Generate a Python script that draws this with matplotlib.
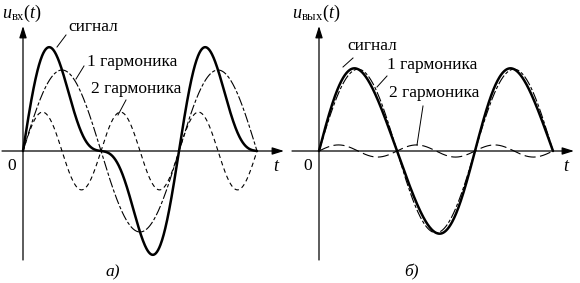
import numpy as np
import matplotlib.pyplot as plt

plt.rcParams['font.family'] = ['Liberation Serif', 'DejaVu Serif']
plt.rcParams['mathtext.fontset'] = 'custom'
plt.rcParams['mathtext.rm'] = 'Liberation Serif'
plt.rcParams['mathtext.it'] = 'Liberation Serif:italic'

# harmonic amplitudes (1 = height of the 1st harmonic)
orders = [1, 2]
amp_in = [1.0, 0.48]
amp_out = [1.01, 0.075]
n_periods = 1.5
labels = ['сигнал', '1 гармоника', '2 гармоника']

W, H = 580, 283
SX = 234 / (2 * np.pi * n_periods)   # px per radian
SY = 81                              # px per unit amplitude
Y0 = 151                             # pixel row of the t axis

fig = plt.figure(figsize=(W / 100, H / 100), dpi=100)


def px(origin, x, y):
    return (x - origin) / SX, (Y0 - y) / SY


def panel(left, origin, amps, ylabel, caption, label_pos, leaders, h2_dash):
    ax = fig.add_axes([left / W, 0, 290 / W, 1])
    ax.set_xlim((left - origin) / SX, (left + 290 - origin) / SX)
    ax.set_ylim((Y0 - H) / SY, Y0 / SY)
    ax.axis('off')

    th = np.linspace(0, 2 * np.pi * n_periods, 600)
    h1 = amps[0] * np.sin(orders[0] * th)
    h2 = amps[1] * np.sin(orders[1] * th)
    ax.plot(th, h1, color='k', lw=0.8, dashes=(9, 2, 3, 2))
    ax.plot(th, h2, color='k', lw=0.8, dashes=h2_dash)
    ax.plot(th, h1 + h2, color='k', lw=1.8, solid_capstyle='round')

    arrow = dict(arrowstyle='-|>,head_length=0.7,head_width=0.22', lw=0.9,
                 color='k', shrinkA=0, shrinkB=0, mutation_scale=10)
    ax.annotate('', xy=px(origin, origin, 26), xytext=px(origin, origin, 260),
                arrowprops=arrow)
    ax.annotate('', xy=px(origin, left + 284, Y0), xytext=px(origin, left + 2, Y0),
                arrowprops=arrow)

    ax.text(*px(origin, origin - 11, 166), '0', fontsize=12.5, ha='center', va='center')
    ax.text(*px(origin, left + 277, 166), '$t$', fontsize=13, ha='center', va='center')
    ax.text(*px(origin, left + 2, 13), ylabel, fontsize=13, ha='left', va='center')
    ax.text(*px(origin, left + caption[0], caption[1]), caption[2], fontsize=12.5,
            ha='center', va='center', style='italic')

    for lab, (x, y), (x0, y0, x1, y1) in zip(labels, label_pos, leaders):
        ax.text(*px(origin, x, y), lab, fontsize=12.5, ha='left', va='center')
        ax.plot(*zip(px(origin, x0, y0), px(origin, x1, y1)), color='k', lw=0.7)
    return ax


panel(0, 23, amp_in, r'$u_{\mathrm{вх}}(t)$', (113, 272, 'а)'),
      [(68, 27), (87, 62), (91, 89)],
      [(57, 47, 66, 35), (76, 79, 84, 66), (118, 115, 126, 100)],
      (4, 3))
panel(290, 319, amp_out, r'$u_{\mathrm{вых}}(t)$', (121, 272, 'б)'),
      [(347, 46), (387, 65), (389, 93)],
      [(343, 67, 353, 58), (377, 87, 387, 76), (417, 145, 423, 106)],
      (10, 4))

fig.savefig('out.png', dpi=100)
